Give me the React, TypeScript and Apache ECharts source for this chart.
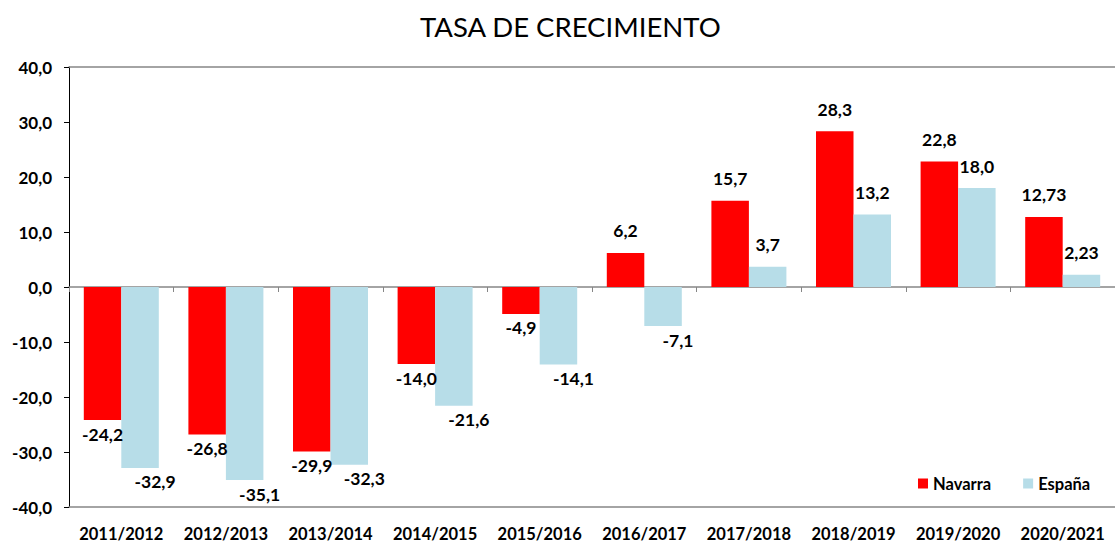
import React, { useEffect, useRef } from "react";
import * as echarts from "echarts";

const categories = [
  "2011/2012", "2012/2013", "2013/2014", "2014/2015", "2015/2016",
  "2016/2017", "2017/2018", "2018/2019", "2019/2020", "2020/2021",
];
const navarra = [-24.2, -26.8, -29.9, -14.0, -4.9, 6.2, 15.7, 28.3, 22.8, 12.73];
const espana = [-32.9, -35.1, -32.3, -21.6, -14.1, -7.1, 3.7, 13.2, 18.0, 2.23];

const FONT = "Lato";

const fmt = (v: number) => {
  const two = Math.round(Math.abs(v) * 100) % 10 !== 0;
  return (two ? v.toFixed(2) : v.toFixed(1)).replace(".", ",");
};

const labelStyle = {
  show: true,
  fontFamily: FONT,
  fontWeight: "bold" as const,
  fontSize: 17.5,
  color: "#000",
  formatter: (p: any) => fmt(p.value),
};

function buildData(values: number[], negOffset: number) {
  return values.map((v) => ({
    value: v,
    label:
      v >= 0
        ? { position: "top", distance: 13 }
        : { position: "bottom", distance: 5, offset: [negOffset, 0] },
  }));
}

export default function App() {
  const ref = useRef<HTMLDivElement>(null);
  useEffect(() => {
    if (!ref.current) return;
    const chart = echarts.init(ref.current, undefined, { renderer: "svg" });
    chart.setOption({
      animation: false,
      backgroundColor: "#fff",
      title: {
        text: "TASA DE CRECIMIENTO",
        left: 415,
        top: 7,
        textStyle: { fontFamily: FONT, fontSize: 27.5, fontWeight: "normal", color: "#000" },
      },
      legend: {
        left: 913,
        top: 470,
        icon: "rect",
        itemWidth: 10,
        itemHeight: 10,
        itemGap: 32,
        textStyle: { fontFamily: FONT, fontWeight: "bold", fontSize: 16.5, color: "#000" },
        data: ["Navarra", "España"],
      },
      grid: { left: 69, right: -7, top: 67, bottom: 34, containLabel: false },
      xAxis: [
        {
          type: "category",
          data: categories,
          position: "bottom",
          axisLine: { onZero: false, lineStyle: { color: "#868686", width: 1.5 } },
          axisTick: { show: false },
          axisLabel: {
            interval: 0,
            hideOverlap: false,
            fontFamily: FONT,
            fontWeight: "bold",
            fontSize: 16.5,
            color: "#000",
            margin: 18,
          },
        },
        {
          type: "category",
          data: categories,
          position: "bottom",
          axisLine: { onZero: true, lineStyle: { color: "#868686", width: 1.5 } },
          axisTick: { show: true, interval: 0, length: 5, lineStyle: { color: "#868686" } },
          axisLabel: { show: false },
        },
        {
          type: "category",
          data: categories,
          position: "top",
          axisLine: { onZero: false, lineStyle: { color: "#868686", width: 1.5 } },
          axisTick: { show: false },
          axisLabel: { show: false },
        },
      ],
      yAxis: {
        type: "value",
        min: -40,
        max: 40,
        interval: 10,
        axisLine: { show: true, lineStyle: { color: "#000" } },
        axisTick: { show: true, length: 5, lineStyle: { color: "#000" } },
        splitLine: { show: false },
        axisLabel: {
          fontFamily: FONT,
          fontWeight: "bold",
          fontSize: 17,
          color: "#000",
          margin: 17,
          formatter: (v: number) => v.toFixed(1).replace(".", ","),
        },
      },
      series: [
        {
          name: "Navarra",
          type: "bar",
          xAxisIndex: 0,
          barWidth: 37.5,
          barGap: "0%",
          itemStyle: { color: "#ff0000" },
          label: labelStyle,
          data: buildData(navarra, 0),
        },
        {
          name: "España",
          type: "bar",
          xAxisIndex: 0,
          barWidth: 37.5,
          barGap: "0%",
          itemStyle: { color: "#b7dde8" },
          label: labelStyle,
          data: buildData(espana, 15),
        },
      ],
    });
    return () => chart.dispose();
  }, []);
  return (
    <div
      ref={ref}
      style={{ position: "fixed", left: 0, top: 0, width: 1115, height: 542 }}
    />
  );
}
